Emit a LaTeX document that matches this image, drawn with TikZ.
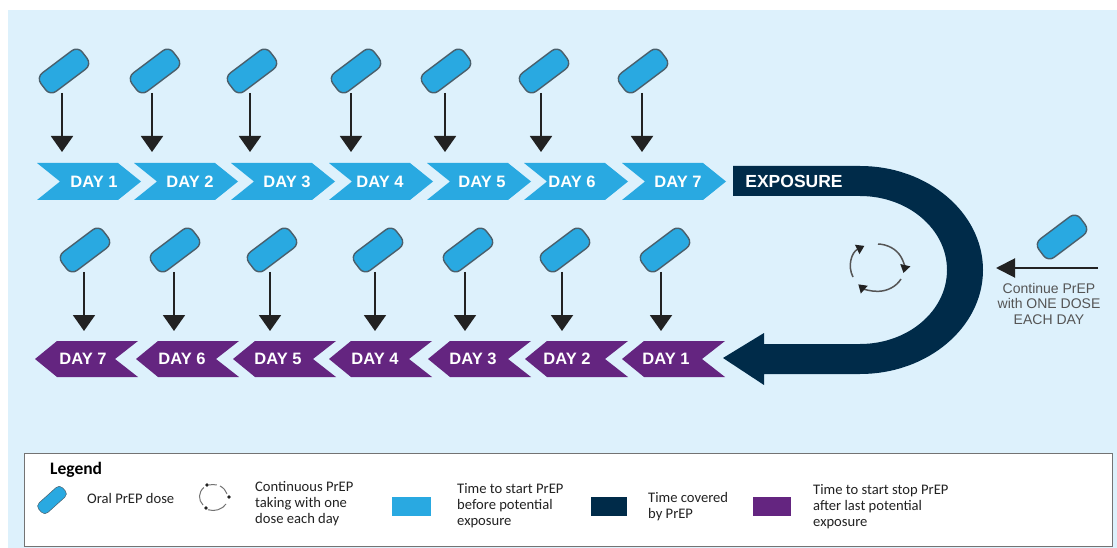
\documentclass[tikz,border=0pt]{standalone}
\usepackage{fontspec}
\setmainfont{Liberation Sans}
\newfontfamily\legfont{Carlito}
\usetikzlibrary{arrows.meta}
\definecolor{bgblue}{HTML}{DDF1FC}
\definecolor{pillblue}{HTML}{29A9E1}
\definecolor{navy}{HTML}{002B49}
\definecolor{plum}{HTML}{642580}
\definecolor{pillrim}{HTML}{4A5F6B}
\definecolor{ink}{HTML}{222222}
\definecolor{graytext}{HTML}{555555}
\tikzset{
  pill/.style={draw=pillrim,line width=1.4pt,fill=pillblue,rounded corners=7.5pt,minimum width=52pt,minimum height=23pt,inner sep=0pt,rotate=37},
  legpill/.style={fill=pillblue,draw=pillrim,line width=.5pt,rounded corners=4.5pt,minimum width=32pt,minimum height=13pt,inner sep=0pt,rotate=42},
  dose/.style={draw=ink,line width=2pt,-{Triangle[length=16pt,width=22pt]}},
  daytext/.style={text=white,font=\bfseries\fontsize{16.5}{16.5}\selectfont,inner sep=0pt},
  cyc/.style={draw=graytext,line width=1.5pt,-{Triangle[length=8pt,width=10pt,color=ink]}},
  legtext/.style={font=\legfont\fontsize{14.6}{16}\selectfont,text=ink,align=left,anchor=west,inner sep=0pt},
  swatch/.style={minimum height=19pt,inner sep=0pt,draw=none},
}
\begin{document}
\begin{tikzpicture}[x=1pt,y=-1pt]
\useasboundingbox (0,0) rectangle (1117,548);
\fill[bgblue] (8,10) rectangle (1117,548);
% top row
\foreach \n/\s/\tx/\px/\ax in {1/37/94/64/62,2/134/190/155/152,3/231/287/252/250,4/329/380/356/351,5/427/482/446/445,6/524/572/544/541,7/622/678/643/642}{
  \fill[pillblue] (\s,163) -- (\s+81,163) -- (\s+104,181.5) -- (\s+81,200) -- (\s,200) -- (\s+23,181.5) -- cycle;
  \node[daytext] (top\n) at (\tx,181.5) {DAY \n};
  \coordinate (ts\n) at (\ax,93);
  \coordinate (te\n) at (\ax,152);
  \draw[dose] (ts\n) -- (te\n);
  \node[pill] (tp\n) at (\px,71) {};
}
% bottom row
\foreach \n/\s/\tx/\px/\ax in {7/35/83/85/84,6/136/182/175/174,5/233/278/272/270,4/329/375/378/375,3/428/473/468/465,2/525/567/565/562,1/622/666/665/661}{
  \fill[plum] (\s,359) -- (\s+22,341) -- (\s+103,341) -- (\s+80,359) -- (\s+103,377) -- (\s+22,377) -- cycle;
  \node[daytext] (bot\n) at (\tx,359) {DAY \n};
  \coordinate (bs\n) at (\ax,272);
  \coordinate (be\n) at (\ax,331);
  \draw[dose] (bs\n) -- (be\n);
  \node[pill] (bp\n) at (\px,250) {};
}
% exposure band
\fill[navy] (733,166) -- (860,166)
  .. controls (928,166) and (983,213) .. (983,270)
  .. controls (983,327) and (928,374) .. (860,374)
  -- (764,374) -- (764,385) -- (723,358) -- (764,333) -- (764,344) -- (860,344)
  .. controls (908,344) and (947,311) .. (947,270)
  .. controls (947,229) and (908,196) .. (860,196)
  -- (733,196) -- cycle;
\node[text=white,font=\bfseries\fontsize{17.5}{17.5}\selectfont,inner sep=0pt] (expo) at (794,181) {EXPOSURE};
% cycle
\coordinate (cyc) at (877,267);
\draw[cyc] (878,244) arc[start angle=-88,end angle=12,x radius=27,y radius=24];
\draw[cyc] (901,279) arc[start angle=29,end angle=135,x radius=27,y radius=24];
\draw[cyc] (853,277) arc[start angle=155,end angle=241,x radius=27,y radius=24];
% continue
\node[pill] (rp) at (1062,237) {};
\coordinate (rs) at (1098,268);
\coordinate (re) at (996,268);
\draw[dose,line width=2pt,-{Triangle[length=19pt,width=19pt]}] (rs) -- (re);
\node[text=graytext,font=\fontsize{14}{15.5}\selectfont,align=center,inner sep=0pt] (cont) at (1049,303.5) {Continue PrEP\\with ONE DOSE\\EACH DAY};
% legend
\node[draw=black!55,line width=1.4pt,fill=white,minimum width=1088pt,minimum height=93pt,inner sep=0pt,anchor=north west] (legend) at (24,453) {};
\node[font=\legfont\bfseries\fontsize{17.5}{18}\selectfont,text=black,inner sep=0pt,anchor=west] (legt) at (50,470) {Legend};
\node[legpill] (lp) at (52,500) {};
\node[legtext] (l1) at (87,498) {Oral PrEP dose};
\draw[black!55,line width=1pt] (209,485) arc[start angle=-105,end angle=-75,x radius=15,y radius=13];
\draw[black!55,line width=1pt] (220,486) arc[start angle=-60,end angle=-15,x radius=15,y radius=13];
\draw[black!55,line width=1pt] (226,504) arc[start angle=30,end angle=110,x radius=15,y radius=13];
\draw[black!55,line width=1pt] (203,505) arc[start angle=140,end angle=225,x radius=15,y radius=13];
\fill[ink] (207,485) circle (1.8) (229,497) circle (1.8) (206,508) circle (1.8);
\node[legtext] (l2) at (255,503.5) {Continuous PrEP\\taking with one\\dose each day};
\node[swatch,fill=pillblue,minimum width=39pt,anchor=west] (s3) at (392,506.5) {};
\node[legtext] (l3) at (457,506) {Time to start PrEP\\before potential\\exposure};
\node[swatch,fill=navy,minimum width=36pt,anchor=west] (s4) at (591,506.5) {};
\node[legtext] (l4) at (648,507) {Time covered\\by PrEP};
\node[swatch,fill=plum,minimum width=38pt,anchor=west] (s5) at (753,506.5) {};
\node[legtext] (l5) at (813,507) {Time to start stop PrEP\\after last potential\\exposure};
\end{tikzpicture}
\end{document}
